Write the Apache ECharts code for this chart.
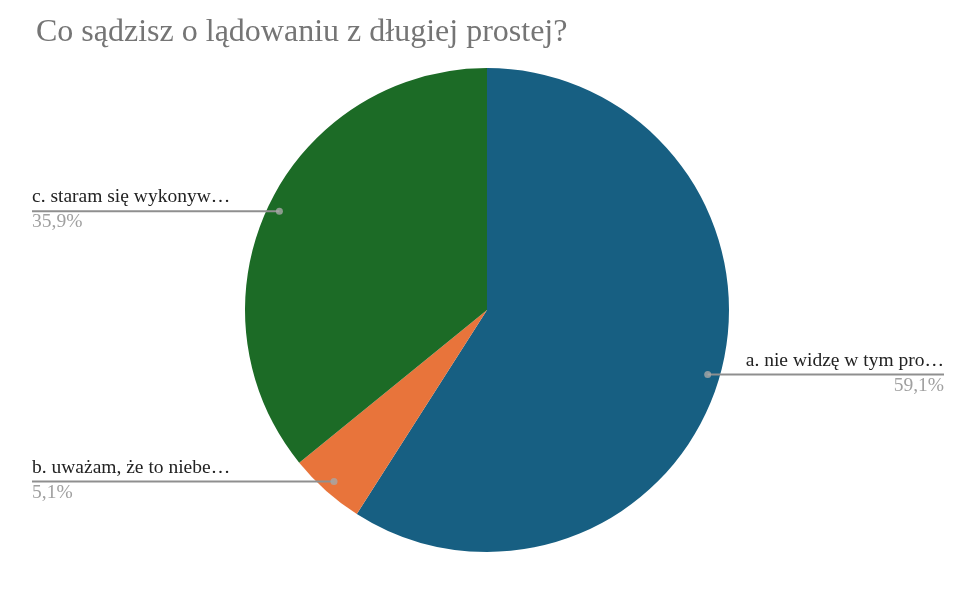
<!DOCTYPE html>
<html>
<head>
<meta charset="utf-8">
<script src="https://cdn.jsdelivr.net/npm/echarts@6/dist/echarts.min.js"></script>
<style>html,body{margin:0;padding:0;background:#fff}#c{width:976px;height:610px}</style>
</head>
<body>
<div id="c"></div>
<script>
var titleText = 'Co sądzisz o lądowaniu z długiej prostej?';
var categories = ['a. nie widzę w tym pro…', 'b. uważam, że to niebe…', 'c. staram się wykonyw…'];
var values = [59.1, 5.1, 35.9];
var colors = ['#175f82', '#e8743b', '#1c6b26'];

var chart = echarts.init(document.getElementById('c'));
var total = values.reduce(function (a, b) { return a + b; }, 0);
var mids = [];
var acc = 0;
values.forEach(function (v) { mids.push(acc + v / 2); acc += v; });

var CENTER = [487, 310];
var R = 242;
var font = '"Liberation Serif", "Times New Roman", serif';

var pieData = categories.map(function (c, i) {
  return { name: c, value: values[i], itemStyle: { color: colors[i] } };
});

chart.setOption({
  backgroundColor: '#fff',
  animation: false,
  title: {
    text: titleText,
    left: 31, top: 12,
    textStyle: { fontFamily: font, fontSize: 32, fontWeight: 'normal', color: '#757575' }
  },
  polar: { center: CENTER, radius: R },
  angleAxis: { type: 'value', min: 0, max: total, startAngle: 90, clockwise: true, show: false },
  radiusAxis: { type: 'value', min: 0, max: 1, show: false },
  series: [
    {
      type: 'pie',
      center: CENTER,
      radius: R,
      startAngle: 90,
      clockwise: true,
      data: pieData,
      label: { show: false },
      labelLine: { show: false },
      silent: true
    },
    {
      type: 'pie',
      center: CENTER,
      radius: R * 0.95,
      startAngle: 90,
      clockwise: true,
      silent: true,
      z: 3,
      data: pieData.map(function (d) { return { name: d.name, value: d.value, itemStyle: { color: 'rgba(0,0,0,0)' } }; }),
      label: {
        show: true,
        position: 'outside',
        alignTo: 'edge',
        edgeDistance: 32,
        fontFamily: font,
        formatter: function (p) {
          return '{n|' + p.name + '}\n{p|' + String(p.value).replace('.', ',') + '%}';
        },
        rich: {
          n: { fontFamily: font, fontSize: 19.5, color: '#222', lineHeight: 22 },
          p: { fontFamily: font, fontSize: 19.5, color: '#a0a0a0', lineHeight: 28 }
        }
      },
      labelLine: { show: true, length: 0, length2: 10, smooth: false, lineStyle: { color: '#8f8f8f', width: 2 } },
      labelLayout: function (params) {
        var pts = params.labelLinePoints;
        if (!pts) return {};
        var isLeft = params.labelRect.x + params.labelRect.width / 2 < CENTER[0];
        var y = pts[0][1];
        var farX = isLeft ? params.labelRect.x : params.labelRect.x + params.labelRect.width;
        return { labelLinePoints: [pts[0], [farX, y]] };
      }
    },
    {
      type: 'scatter',
      coordinateSystem: 'polar',
      symbol: 'circle',
      symbolSize: 7,
      silent: true,
      z: 4,
      itemStyle: { color: '#a8a8a8' },
      data: mids.map(function (m) { return [0.95, m]; })
    }
  ]
});
</script>
</body>
</html>
